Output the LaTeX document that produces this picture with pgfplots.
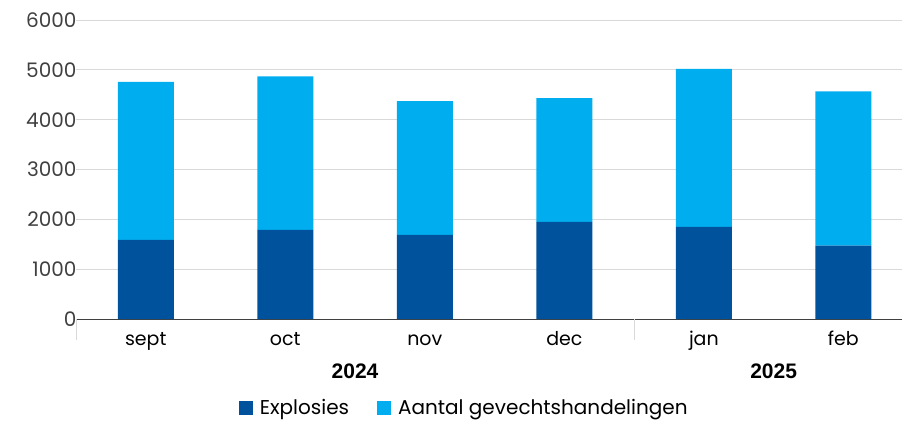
\documentclass[border=0pt]{standalone}
\usepackage{pgfplots}
\pgfplotsset{compat=1.18}
\usepackage{fontspec}
\setmainfont{Poppins}
\newfontfamily\yearfont{Liberation Sans}
\definecolor{darkb}{RGB}{0,82,156}
\definecolor{lightb}{RGB}{0,174,239}
\definecolor{gridc}{RGB}{217,217,217}
\definecolor{txt}{RGB}{64,64,64}
\begin{document}
\begin{tikzpicture}
\path[use as bounding box] (-76bp,-104bp) rectangle (826bp,319bp);
\begin{axis}[
  at={(0,0)}, anchor=south west,
  scale only axis, width=826bp, height=299bp,
  ybar stacked, bar width=56bp,
  xmin=-0.5, xmax=5.42, ymin=0, ymax=6000,
  ytick={0,1000,...,6000},
  yticklabel style={font=\fontsize{20bp}{22bp}\selectfont, text=txt, xshift=4bp},
  /pgf/number format/assume math mode=true,
  /pgf/number format/set thousands separator={},
  xtick={0,...,5},
  xticklabels={sept,oct,nov,dec,jan,feb},
  xticklabel style={font=\fontsize{19bp}{22bp}\selectfont, text=black, text height=14bp, text depth=4bp, yshift=-9bp},
  major x tick style={draw=none},
  major y tick style={draw=none},
  ymajorgrids, grid style={gridc, line width=0.8pt},
  axis x line*=bottom, axis y line*=left,
  y axis line style={draw=none},
  x axis line style={draw=txt, line width=1pt, -},
  legend style={at={(0.47,-0.298)}, anchor=center, draw=none, legend columns=2,
    font=\fontsize{20bp}{22bp}\selectfont, inner sep=0pt,
    /tikz/every even column/.append style={column sep=26bp}},
  legend image code/.code={\fill[#1] (0bp,-7bp) rectangle (14bp,7bp); \path (19bp,0bp);},
  clip=false,
]
\addplot[fill=darkb, draw=none] coordinates {(0,1590) (1,1790) (2,1690) (3,1950) (4,1850) (5,1470)};
\addplot[fill=lightb, draw=none] coordinates {(0,3170) (1,3080) (2,2680) (3,2480) (4,3170) (5,3100)};
\legend{Explosies, Aantal gevechtshandelingen}
\draw[gridc, line width=0.8pt] (axis cs:-0.5,0) -- ([yshift=-21bp]axis cs:-0.5,0);
\draw[gridc, line width=0.8pt] (axis cs:3.5,0) -- ([yshift=-21bp]axis cs:3.5,0);
\node[font=\yearfont\bfseries\fontsize{21bp}{24bp}\selectfont] at (axis cs:1.5,0) [yshift=-52bp] {2024};
\node[font=\yearfont\bfseries\fontsize{21bp}{24bp}\selectfont] at (axis cs:4.5,0) [yshift=-52bp] {2025};
\end{axis}
\end{tikzpicture}
\end{document}
